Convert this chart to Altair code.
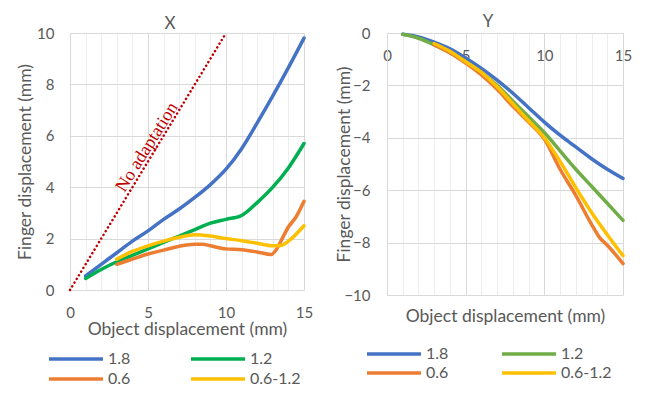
import altair as alt
import pandas as pd

series_order = ["1.8", "1.2", "0.6", "0.6-1.2"]
colors_x = ["#4472C4", "#00B050", "#ED7D31", "#FFC000"]
colors_y = ["#4472C4", "#70AD47", "#ED7D31", "#FFC000"]

# ---- X panel data ----
x_18 = [1, 2, 3, 4, 5, 6, 7, 8, 9, 10, 11, 12, 13, 14, 15]
y_18 = [0.55, 1.0, 1.45, 1.9, 2.3, 2.75, 3.15, 3.6, 4.1, 4.7, 5.5, 6.5, 7.55, 8.65, 9.8]
x_12 = [1, 2, 3, 4, 5, 6, 7, 8, 9, 10, 11, 12, 13, 14, 15]
y_12 = [0.45, 0.8, 1.1, 1.35, 1.6, 1.85, 2.1, 2.35, 2.6, 2.75, 2.9, 3.4, 4.0, 4.75, 5.7]
x_06 = [3, 4, 5, 6, 7, 8, 8.5, 9, 10, 11, 12, 12.9, 13.2, 13.6, 14.0, 14.5, 15]
y_06 = [1.0, 1.2, 1.4, 1.55, 1.7, 1.78, 1.78, 1.72, 1.6, 1.57, 1.48, 1.38, 1.55, 2.0, 2.45, 2.85, 3.45]
x_0612 = [3, 4, 5, 6, 7, 8, 9, 10, 11, 12, 13, 13.5, 14, 15]
y_0612 = [1.2, 1.5, 1.72, 1.9, 2.05, 2.15, 2.1, 2.0, 1.92, 1.82, 1.72, 1.73, 1.9, 2.5]

noadapt_x = [0, 10]
noadapt_y = [0, 10]
noadapt_label = "No adaptation"

# ---- Y panel data ----
yx_18 = [1, 2, 3, 4, 5, 6, 7, 8, 9, 10, 11, 12, 13, 14, 15]
yy_18 = [-0.05, -0.15, -0.35, -0.6, -0.95, -1.35, -1.8, -2.3, -2.85, -3.4, -3.9, -4.35, -4.8, -5.2, -5.55]
yx_12 = [1, 2, 3, 4, 5, 6, 7, 8, 9, 10, 11, 12, 13, 14, 15]
yy_12 = [-0.05, -0.2, -0.45, -0.75, -1.1, -1.5, -2.0, -2.6, -3.2, -3.8, -4.5, -5.2, -5.85, -6.5, -7.15]
yx_06 = [3, 4, 5, 6, 7, 8, 9, 10, 11, 12, 13, 13.5, 14, 15]
yy_06 = [-0.45, -0.75, -1.15, -1.6, -2.15, -2.8, -3.4, -4.05, -5.2, -6.2, -7.3, -7.8, -8.1, -8.8]
yx_0612 = [3, 4, 5, 6, 7, 8, 9, 10, 11, 12, 13, 14, 15]
yy_0612 = [-0.4, -0.7, -1.1, -1.5, -2.05, -2.7, -3.35, -4.0, -4.9, -5.9, -6.85, -7.7, -8.5]


def long_df(pairs):
    rows = []
    for name, xs, ys in pairs:
        for i, (a, b) in enumerate(zip(xs, ys)):
            rows.append({"series": name, "x": a, "y": b, "order": i})
    return pd.DataFrame(rows)


df_x = long_df([("1.8", x_18, y_18), ("1.2", x_12, y_12),
                ("0.6", x_06, y_06), ("0.6-1.2", x_0612, y_0612)])
df_y = long_df([("1.8", yx_18, yy_18), ("1.2", yx_12, yy_12),
                ("0.6", yx_06, yy_06), ("0.6-1.2", yx_0612, yy_0612)])
df_na = pd.DataFrame({"x": noadapt_x, "y": noadapt_y})
df_na_lbl = pd.DataFrame({"x": [4.95], "y": [5.55], "t": [noadapt_label]})

FONT = "Lato"
TXT = "#595959"
MAJOR = "#D9D9D9"
MINOR = "#EDEDED"

grid_cond = {"condition": {"test": "datum.value % 5 === 0", "value": MAJOR}, "value": MINOR}
lbl5 = "datum.value % 5 === 0 ? datum.label : ''"

W1, H1 = 234, 257
W2, H2 = 236, 262
TFS = 17.5


def legend(lx, ly, colpad, rowpad):
    return alt.Legend(title=None, orient="none", direction="horizontal", legendX=lx, legendY=ly,
                      columns=2, symbolType="M-3,0H3", symbolSize=324, symbolStrokeWidth=3.5,
                      symbolFillColor="transparent",
                      labelFontSize=16, labelFont=FONT, labelColor=TXT,
                      columnPadding=colpad, rowPadding=rowpad, labelOffset=21)


# ---------- Left panel ----------
xl = alt.X("x:Q", scale=alt.Scale(domain=[0, 15], nice=False),
           axis=alt.Axis(values=list(range(16)), labelExpr=lbl5, gridColor=grid_cond,
                         ticks=False, tickSize=0, labelPadding=15, domainColor=MAJOR,
                         labelOverlap=False, labelFlush=False, labelFontSize=15, labelFont=FONT,
                         labelColor=TXT, title="Object displacement (mm)", titleFont=FONT,
                         titleFontSize=TFS, titleColor=TXT, titleFontWeight="normal", titleY=39,
                         titleBaseline="middle"))
yl = alt.Y("y:Q", scale=alt.Scale(domain=[0, 10], nice=False),
           axis=alt.Axis(values=[0, 2, 4, 6, 8, 10], gridColor=MAJOR, ticks=False, tickSize=0,
                         labelPadding=16, domainColor=MAJOR, labelFontSize=15, labelFont=FONT,
                         labelColor=TXT, title="Finger displacement (mm)", titleFont=FONT,
                         titleFontSize=TFS, titleColor=TXT, titleFontWeight="normal",
                         titleX=-45, titleY=H1 / 2, titleBaseline="middle"))

lines_x = alt.Chart(df_x).mark_line(strokeWidth=3.5, interpolate="monotone", strokeCap="round").encode(
    x=xl, y=yl, order="order:Q",
    color=alt.Color("series:N", scale=alt.Scale(domain=series_order, range=colors_x),
                    legend=legend(-5, 315, 53, 1)),
    detail="series:N")

na_line = alt.Chart(df_na).mark_line(color="#C00000", strokeWidth=2.5, strokeDash=[0.1, 4.2],
                                     strokeCap="round").encode(x=xl, y=yl)
na_text = alt.Chart(df_na_lbl).mark_text(angle=302, font="Liberation Serif", fontSize=18,
                                         color="#C00000").encode(x=xl, y=yl, text="t:N")

left = alt.layer(lines_x, na_line, na_text).properties(
    width=W1, height=H1,
    title=alt.TitleParams("X", fontSize=17, font=FONT, color=TXT, fontWeight="normal",
                          dx=-17, offset=-7))

# ---------- Right panel ----------
xr = alt.X("x:Q", scale=alt.Scale(domain=[0, 15], nice=False),
           axis=alt.Axis(orient="bottom", offset=-H2, values=list(range(16)), labelExpr=lbl5,
                         gridColor=grid_cond, ticks=False, tickSize=0, labelPadding=15,
                         domainColor=MAJOR, labelOverlap=False, labelFlush=False, labelFontSize=15,
                         labelFont=FONT, labelColor=TXT, title="Object displacement (mm)",
                         titleFont=FONT, titleFontSize=TFS, titleColor=TXT,
                         titleFontWeight="normal", titleY=283, titleBaseline="middle"))
yr = alt.Y("y:Q", scale=alt.Scale(domain=[-10, 0], nice=False),
           axis=alt.Axis(values=[-10, -8, -6, -4, -2, 0], gridColor=MAJOR, ticks=False, tickSize=0,
                         labelPadding=17, domainColor=MAJOR, labelFontSize=15, labelFont=FONT,
                         labelColor=TXT, title="Finger displacement (mm)", titleFont=FONT,
                         titleFontSize=TFS, titleColor=TXT, titleFontWeight="normal",
                         titleX=-43, titleY=H2 / 2, titleBaseline="middle"))

right = alt.Chart(df_y).mark_line(strokeWidth=3.5, interpolate="monotone", strokeCap="round").encode(
    x=xr, y=yr, order="order:Q",
    color=alt.Color("series:N", scale=alt.Scale(domain=series_order, range=colors_y),
                    legend=legend(-4, 310, 46, 0)),
    detail="series:N").properties(
    width=W2, height=H2,
    title=alt.TitleParams("Y", fontSize=17, font=FONT, color=TXT, fontWeight="normal",
                          dx=-17, offset=-5))

chart = alt.hconcat(left, right, spacing=21).resolve_scale(color="independent").resolve_legend(
    color="independent").properties(
    padding={"left": 7, "top": 5, "right": 5, "bottom": 5}).configure_view(stroke=None)

chart.save("out.html", embed_options={"renderer": "svg", "actions": False})
